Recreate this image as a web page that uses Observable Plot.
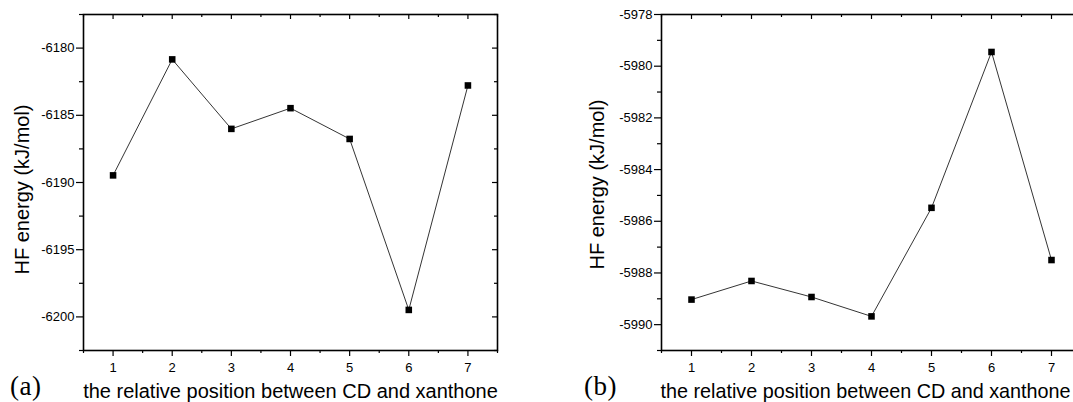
<!DOCTYPE html>
<html>
<head>
<meta charset="utf-8">
<script src="https://cdn.jsdelivr.net/npm/d3@7"></script>
<script src="https://cdn.jsdelivr.net/npm/@observablehq/plot@0.6"></script>
<style>
html, body { margin: 0; padding: 0; background: #fff; overflow: hidden; width: 1073px; height: 402px; }
#wrap { position: relative; width: 1073px; height: 402px; overflow: hidden; background: #fff; }
.panel { position: absolute; top: 0; height: 402px; }
.panel svg { max-width: none !important; display: block; }
.tag { position: absolute; font-family: "Liberation Serif", "Times New Roman", serif; font-size: 27px; letter-spacing: 0.5px; line-height: 1; color: #000; }
</style>
</head>
<body>
<div id="wrap">
  <div id="panelA" class="panel" style="left:0px; width:540px"></div>
  <div id="panelB" class="panel" style="left:540px; width:560px"></div>
  <div class="tag" style="left:10px; top:373px">(a)</div>
  <div class="tag" style="left:584px; top:373px">(b)</div>
</div>
<script>
// ---- data ----
const positions = [1, 2, 3, 4, 5, 6, 7];
const energyA = [-6189.47, -6180.84, -6186.01, -6184.47, -6186.76, -6199.48, -6182.78];
const energyB = [-5989.03, -5988.31, -5988.93, -5989.68, -5985.48, -5979.45, -5987.50];

const xTicks = [1, 2, 3, 4, 5, 6, 7];
const xMinorTicks = [0.5, 1.5, 2.5, 3.5, 4.5, 5.5, 6.5, 7.5];
const xDomain = [0.5, 7.5];

const yTicksA = [-6200, -6195, -6190, -6185, -6180];
const yMinorA = [-6202.5, -6197.5, -6192.5, -6187.5, -6182.5, -6177.5];
const yDomainA = [-6202.5, -6177.5];

const yTicksB = [-5990, -5988, -5986, -5984, -5982, -5980, -5978];
const yMinorB = [-5991, -5989, -5987, -5985, -5983, -5981, -5979];
const yDomainB = [-5991, -5978];

const xTitle = "the relative position between CD and xanthone";
const yTitle = "HF energy (kJ/mol)";

function makePanel({energy, yTicks, yMinor, yDomain, width, marginLeft, marginRight, titleDx, titleDy, xTitleDx, xTitleSize}) {
  const height = 402, marginTop = 14, marginBottom = 52;
  const plotW = width - marginLeft - marginRight;
  const plotH = height - marginTop - marginBottom;
  const rows = positions.map((p, i) => ({p, e: energy[i]}));
  const fmt = d => String(d);
  return Plot.plot({
    width, height, marginLeft, marginRight, marginTop, marginBottom,
    style: {fontFamily: "'Liberation Sans', Arial, sans-serif", fontSize: "13px", color: "#000", background: "transparent"},
    x: {domain: xDomain},
    y: {domain: yDomain},
    marks: [
      // bottom axis (outward ticks)
      Plot.axisX({ticks: xTicks, tickSize: 6, tickPadding: 6, tickFormat: fmt, label: null, fontSize: 13, strokeWidth: 1.2}),
      Plot.axisX({ticks: xMinorTicks, tickSize: 3, tickFormat: () => "", label: null, strokeWidth: 1.2}),
      // left axis (outward ticks)
      Plot.axisY({ticks: yTicks, tickSize: 7, tickPadding: 2, tickFormat: fmt, label: null, fontSize: 13, strokeWidth: 1.2}),
      Plot.axisY({ticks: yMinor, tickSize: 4, tickFormat: () => "", label: null, strokeWidth: 1.2}),
      // mirrored inward ticks on top and right
      Plot.tickX(xTicks, {x: d => d, insetBottom: plotH - 5, stroke: "#000", strokeWidth: 1.2}),
      Plot.tickX(xMinorTicks, {x: d => d, insetBottom: plotH - 3, stroke: "#000", strokeWidth: 1.2}),
      Plot.tickY(yTicks, {y: d => d, insetLeft: plotW - 5, stroke: "#000", strokeWidth: 1.2}),
      Plot.tickY(yMinor, {y: d => d, insetLeft: plotW - 3, stroke: "#000", strokeWidth: 1.2}),
      Plot.frame({stroke: "#000", strokeWidth: 1.6}),
      // data
      Plot.line(rows, {x: "p", y: "e", stroke: "#000", strokeWidth: 0.8}),
      Plot.dot(rows, {x: "p", y: "e", symbol: "square", r: 3.7, fill: "#000", stroke: "none"}),
      // titles
      Plot.text([xTitle], {text: d => d, frameAnchor: "bottom", textAnchor: "middle", dx: xTitleDx, dy: 41.5, fontSize: xTitleSize, fill: "#000", lineAnchor: "middle"}),
      Plot.text([yTitle], {text: d => d, frameAnchor: "left", textAnchor: "middle", rotate: -90, dx: titleDx, dy: titleDy, fontSize: 20, fill: "#000", lineAnchor: "middle"})
    ]
  });
}

document.getElementById("panelA").append(makePanel({
  energy: energyA, yTicks: yTicksA, yMinor: yMinorA, yDomain: yDomainA,
  width: 540, marginLeft: 83, marginRight: 43, titleDx: -61, titleDy: 7, xTitleDx: 0, xTitleSize: 20
}));
document.getElementById("panelB").append(makePanel({
  energy: energyB, yTicks: yTicksB, yMinor: yMinorB, yDomain: yDomainB,
  width: 560, marginLeft: 121, marginRight: 19, titleDx: -64, titleDy: 2, xTitleDx: -6, xTitleSize: 19.8
}));
</script>
</body>
</html>
